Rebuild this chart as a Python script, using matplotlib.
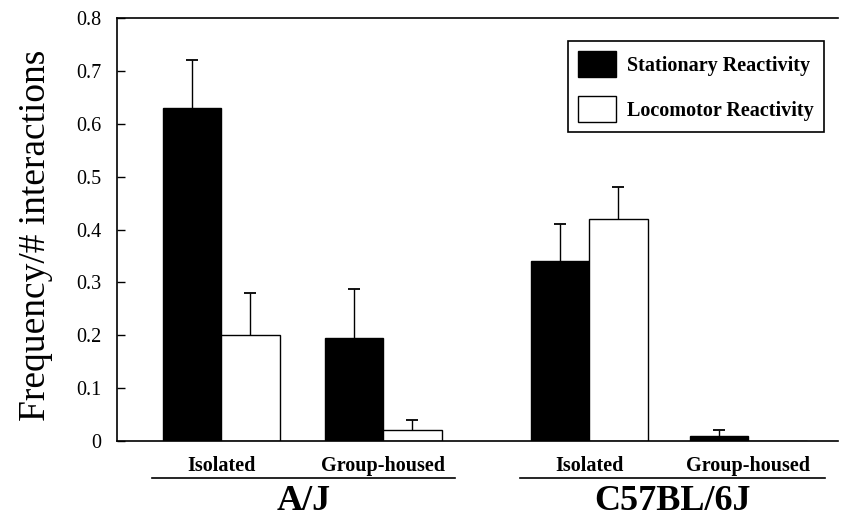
import matplotlib
matplotlib.use("Agg")
import matplotlib.pyplot as plt
from matplotlib.patches import Patch

plt.rcParams['font.family'] = ['Liberation Serif', 'DejaVu Serif']

# data
groups = ['Isolated', 'Group-housed', 'Isolated', 'Group-housed']
strains = ['A/J', 'C57BL/6J']
stationary = [0.63, 0.195, 0.34, 0.01]
stationary_err = [0.09, 0.092, 0.07, 0.01]
locomotor = [0.20, 0.02, 0.42, 0.0]
locomotor_err = [0.08, 0.02, 0.06, 0.0]
yticks = [0, 0.1, 0.2, 0.3, 0.4, 0.5, 0.6, 0.7, 0.8]

centers = [1.78, 4.55, 8.07, 10.79]
w = 1.0

fig = plt.figure(figsize=(8.41, 5.22), dpi=100)
ax = fig.add_axes([117/841, 1 - 441/522, (838-117)/841, (441-18)/522])

ax.bar([c - w/2 for c in centers], stationary, w, color='black', edgecolor='black', linewidth=1)
ax.bar([c + w/2 for c in centers], locomotor, w, color='white', edgecolor='black', linewidth=1)


def upper_err(xs, ys, errs):
    pts = [(x, y, e) for x, y, e in zip(xs, ys, errs) if e > 0]
    eb = ax.errorbar([p[0] for p in pts], [p[1] for p in pts],
                     yerr=[[0]*len(pts), [p[2] for p in pts]],
                     fmt='none', ecolor='black', elinewidth=1, capsize=4, capthick=1.3)
    eb[1][0].set_visible(False)  # hide the lower cap


upper_err([c - w/2 for c in centers], stationary, stationary_err)
upper_err([c + w/2 for c in centers], locomotor, locomotor_err)

ax.set_xlim(0, (838-117)/58.5)
ax.set_ylim(0, 0.8)
ax.set_yticks(yticks)
ax.set_yticklabels(['0'] + ['%.1f' % t for t in yticks[1:]], fontsize=14.5)
ax.tick_params(axis='y', direction='in', length=6, width=1, pad=11)
ax.set_xticks([])
ax.spines['right'].set_visible(False)
for s in ['left', 'top', 'bottom']:
    ax.spines[s].set_linewidth(1.2)
ax.set_ylabel('Frequency/# interactions', fontsize=27)
ax.yaxis.set_label_coords(-0.089, 0.487)

for c, g in zip(centers, groups):
    ax.text(c, -0.047, g, ha='center', va='center', fontsize=14.5, fontweight='bold',
            transform=ax.transData, clip_on=False)

# strain labels with rule lines
for (x0, x1), s in zip([(152, 455), (520, 825)], strains):
    fig.add_artist(plt.Line2D([x0/841, x1/841], [1 - 478/522] * 2, color='black', lw=1.2))
    fig.text((x0 + x1)/2/841, 1 - 501/522, s, ha='center', va='center', fontsize=26, fontweight='bold')

handles = [Patch(facecolor='black', edgecolor='black', label='Stationary Reactivity'),
           Patch(facecolor='white', edgecolor='black', label='Locomotor Reactivity')]
leg = ax.legend(handles=handles, loc='upper right', bbox_to_anchor=(824/841, 1 - 41/522),
                bbox_transform=fig.transFigure, prop={'weight': 'bold', 'size': 14.5},
                fancybox=False, edgecolor='black', framealpha=1, handlelength=1.9,
                handleheight=1.6, labelspacing=0.95, borderpad=0.5, borderaxespad=0,
                handletextpad=0.55)
leg.get_frame().set_linewidth(1.2)

fig.savefig('out.png', dpi=100)
